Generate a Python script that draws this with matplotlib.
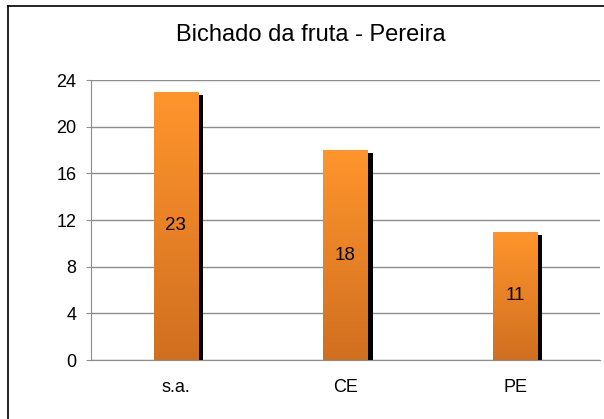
import numpy as np
import matplotlib.pyplot as plt
from matplotlib.colors import LinearSegmentedColormap
from matplotlib.patches import Rectangle

plt.rcParams['font.family'] = ['Liberation Sans', 'DejaVu Sans']

categories = ['s.a.', 'CE', 'PE']
values = [23, 18, 11]
yticks = [0, 4, 8, 12, 16, 20, 24]

W, H = 604, 419
fig = plt.figure(figsize=(W / 100, H / 100), dpi=100)
ax = fig.add_axes([91 / W, (H - 360) / H, (600 - 91) / W, 280 / H])

# outer frame (only top/left visible in the source image)
fig.add_artist(plt.Line2D([8 / W, 8 / W], [0, 1 - 6.5 / H], color='black', lw=1.2, transform=fig.transFigure))
fig.add_artist(plt.Line2D([8 / W, 1], [1 - 6.5 / H, 1 - 6.5 / H], color='black', lw=1.2, transform=fig.transFigure))

x = np.arange(len(categories))
bw = 0.26
px_x = 3 / (600 - 91)   # data units per pixel horizontally
px_y = 24 / 280

cmap = LinearSegmentedColormap.from_list('orng', ['#d06f20', '#ff952c'])
grad = np.linspace(0, 1, 256).reshape(-1, 1)

ax.set_xlim(-0.5, 2.5)
ax.set_ylim(0, 24)

for xi, v in zip(x, values):
    # shadow
    ax.add_patch(Rectangle((xi - bw / 2 + 5 * px_x, 0), bw, v - 3 * px_y,
                           facecolor='black', edgecolor='none', zorder=2))
    bar = ax.bar(xi, v, width=bw, color='none', zorder=3)[0]
    im = ax.imshow(grad, cmap=cmap, aspect='auto', origin='lower',
                   extent=(xi - bw / 2, xi + bw / 2, 0, v), zorder=3)
    im.set_clip_path(bar)
    ax.text(xi, v / 2, str(v), ha='center', va='center', fontsize=13.5, zorder=4)

ax.set_xlim(-0.5, 2.5)
ax.set_ylim(0, 24)
ax.set_yticks(yticks)
ax.set_xticks(x)
ax.set_xticklabels(categories)
ax.yaxis.grid(True, color='#8c8c8c', lw=1)
ax.set_axisbelow(True)
for s in ['top', 'right']:
    ax.spines[s].set_visible(False)
ax.spines['left'].set_color('#8c8c8c')
ax.spines['bottom'].set_color('#8c8c8c')
ax.tick_params(axis='y', length=3.6, color='#8c8c8c', labelsize=13, pad=7)
ax.tick_params(axis='x', length=0, labelsize=13, pad=14)

fig.text(311 / W, 1 - 35 / H, 'Bichado da fruta - Pereira', ha='center', va='center', fontsize=17)

fig.savefig('out.png', dpi=100)
